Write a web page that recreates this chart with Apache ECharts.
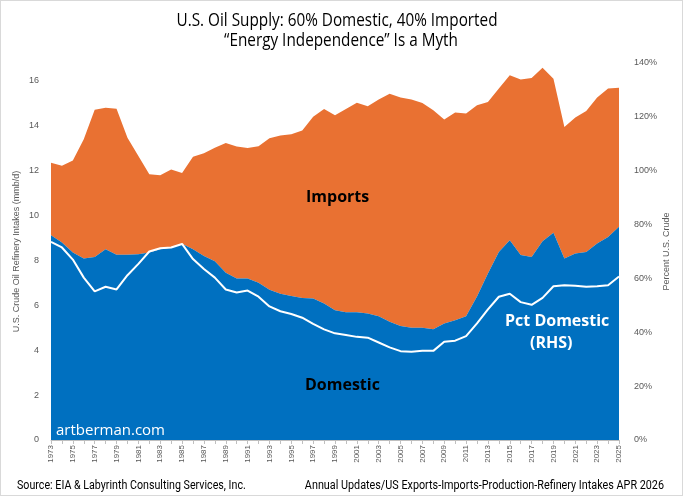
<!DOCTYPE html>
<html>
<head>
<meta charset="utf-8">
<script src="https://cdn.jsdelivr.net/npm/echarts@6/dist/echarts.min.js"></script>
<style>
  html, body { margin: 0; padding: 0; background: #fff; }
  #chart { width: 681px; height: 494px; border: 1px solid #d9d9d9; }
</style>
</head>
<body>
<div id="chart"></div>
<script>
var years = [];
for (var y = 1973; y <= 2025; y++) years.push(String(y));

// mmb/d
var domestic = [
  9.12, 8.80, 8.35, 8.09, 8.16, 8.50, 8.25, 8.25, 8.28, 8.35,
  8.50, 8.58, 8.75, 8.50, 8.20, 7.97, 7.45, 7.20, 7.20, 7.01,
  6.70, 6.52, 6.42, 6.33, 6.31, 6.08, 5.78, 5.69, 5.69, 5.64,
  5.52, 5.27, 5.08, 5.00, 5.00, 4.93, 5.19, 5.34, 5.52, 6.40,
  7.42, 8.38, 8.90, 8.24, 8.16, 8.86, 9.23, 8.09, 8.31, 8.38,
  8.76, 9.05, 9.50
];
var imports = [
  3.24, 3.42, 4.10, 5.31, 6.56, 6.31, 6.51, 5.22, 4.38, 3.49,
  3.30, 3.47, 3.15, 4.12, 4.58, 5.05, 5.78, 5.88, 5.81, 6.08,
  6.75, 7.05, 7.20, 7.46, 8.09, 8.67, 8.69, 9.06, 9.34, 9.23,
  9.65, 10.16, 10.18, 10.17, 10.02, 9.76, 9.09, 9.25, 9.03, 8.52,
  7.64, 7.28, 7.35, 7.82, 7.97, 7.73, 6.87, 5.86, 6.06, 6.28,
  6.50, 6.61, 6.20
];
// percent, right axis
var pctDomestic = [
  73.6, 71.5, 67.0, 60.3, 55.2, 56.9, 55.9, 61.2, 65.4, 70.0,
  71.2, 71.5, 72.8, 67.2, 63.5, 60.3, 55.9, 54.8, 55.5, 53.2,
  49.6, 47.8, 46.8, 45.4, 43.1, 41.1, 39.6, 39.0, 38.3, 38.0,
  36.2, 34.4, 33.0, 32.8, 33.1, 33.1, 36.5, 36.9, 38.6, 43.3,
  48.5, 53.2, 54.3, 51.2, 50.2, 52.8, 57.1, 57.5, 57.3, 56.9,
  57.1, 57.5, 60.7
];

var titleLines = ['U.S. Oil Supply: 60% Domestic, 40% Imported', '\u201cEnergy Independence\u201d Is a Myth'];

var axisGray = '#595959';
var chart = echarts.init(document.getElementById('chart'));
chart.setOption({
  animation: false,
  grid: { left: 50, right: 63, top: 62, bottom: 55, containLabel: false, outerBoundsMode: 'none' },
  xAxis: {
    type: 'category',
    data: years,
    boundaryGap: false,
    axisLine: { lineStyle: { color: '#bfbfbf' } },
    axisTick: { interval: 0, length: 4, lineStyle: { color: '#bfbfbf' } },
    axisLabel: { interval: 1, rotate: 90, fontSize: 8, color: axisGray, fontFamily: 'Liberation Sans', margin: 5 }
  },
  yAxis: [{
    type: 'value',
    min: 0, max: 16.8, interval: 2,
    name: 'U.S. Crude Oil Refinery Intakes (mmb/d)',
    nameLocation: 'middle', nameGap: 30, nameMoveOverlap: false,
    nameTextStyle: { fontSize: 9, color: axisGray, fontFamily: 'Liberation Sans' },
    axisLine: { show: false }, axisTick: { show: false }, splitLine: { show: false },
    axisLabel: { showMaxLabel: false, fontSize: 9, color: axisGray, fontFamily: 'Liberation Sans', margin: 12 }
  }, {
    type: 'value',
    min: 0, max: 140, interval: 20,
    name: 'Percent U.S. Crude',
    nameLocation: 'middle', nameGap: 43, nameMoveOverlap: false,
    nameTextStyle: { fontSize: 9, color: axisGray, fontFamily: 'Liberation Sans' },
    axisLine: { show: false }, axisTick: { show: false }, splitLine: { show: false },
    axisLabel: { formatter: '{value}%', fontSize: 9, color: axisGray, fontFamily: 'Liberation Sans', margin: 15 }
  }],
  series: [{
    name: 'Domestic', type: 'line', stack: 'supply', data: domestic,
    showSymbol: false, lineStyle: { width: 0 }, areaStyle: { color: '#0070C0', opacity: 1 }, z: 2
  }, {
    name: 'Imports', type: 'line', stack: 'supply', data: imports,
    showSymbol: false, lineStyle: { width: 0 }, areaStyle: { color: '#E97132', opacity: 1 }, z: 1
  }, {
    name: 'Pct Domestic', type: 'line', yAxisIndex: 1, data: pctDomestic,
    showSymbol: false, lineStyle: { width: 2, color: '#ffffff' }, z: 3
  }],
  graphic: [
    { type: 'text', x: 336, y: 20, scaleX: 0.85, z: 10, style: { text: titleLines[0], font: '18px "Open Sans"', fill: '#000', align: 'center', verticalAlign: 'middle' } },
    { type: 'text', x: 340, y: 40, scaleX: 0.85, z: 10, style: { text: titleLines[1], font: '18px "Open Sans"', fill: '#000', align: 'center', verticalAlign: 'middle' } },
    { type: 'text', left: 305, top: 188, z: 10, style: { text: 'Imports', font: 'bold 16px "Open Sans"', fill: '#000' } },
    { type: 'text', left: 304, top: 376, z: 10, style: { text: 'Domestic', font: 'bold 16px "Open Sans"', fill: '#000' } },
    { type: 'text', left: 504, top: 312, z: 10, style: { text: 'Pct Domestic', font: 'bold 16px "Open Sans"', fill: '#fff' } },
    { type: 'text', left: 529, top: 334, z: 10, style: { text: '(RHS)', font: 'bold 16px "Open Sans"', fill: '#fff' } },
    { type: 'text', left: 55, top: 422, z: 10, style: { text: 'artberman.com', font: '15px "Open Sans"', fill: '#fff' } },
    { type: 'text', x: 16, y: 479, scaleX: 0.89, z: 10, style: { text: 'Source: EIA & Labyrinth Consulting Services, Inc.', font: '12px Roboto', fill: '#000' } },
    { type: 'text', x: 663, y: 479, scaleX: 0.9, z: 10, style: { text: 'Annual Updates/US Exports-Imports-Production-Refinery Intakes APR 2026', font: '12px Roboto', fill: '#000', align: 'right' } }
  ]
});
</script>
</body>
</html>
